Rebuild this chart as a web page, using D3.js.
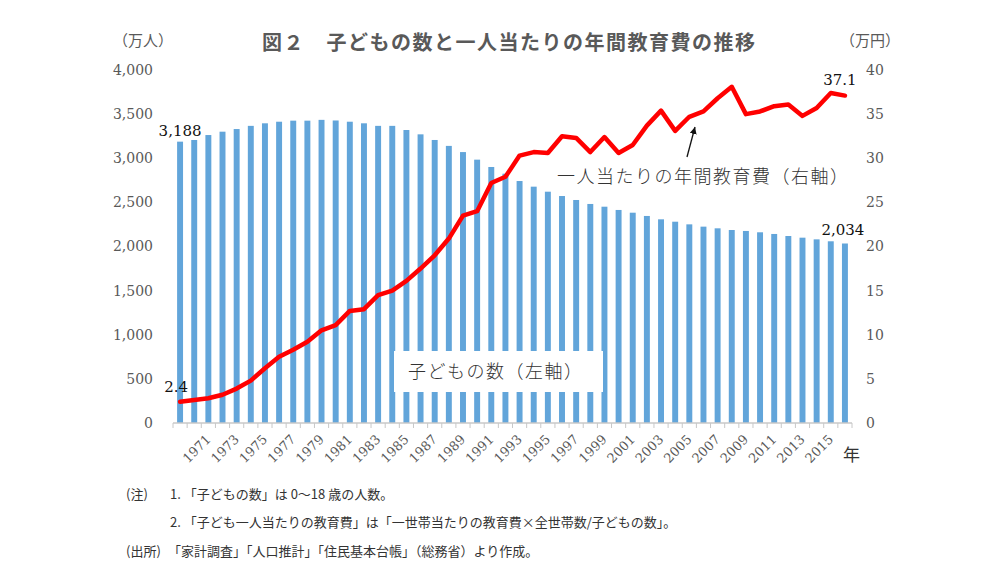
<!DOCTYPE html>
<html>
<head>
<meta charset="utf-8">
<script src="https://cdn.jsdelivr.net/npm/d3@7"></script>
<style>
  html, body { margin: 0; padding: 0; background: #fff; }
  svg { display: block; }
  .num { font-family: "DejaVu Serif", "Liberation Serif", serif; }
  .jp { font-family: "Noto Sans CJK JP", "Noto Sans", sans-serif; }
</style>
</head>
<body>
<svg id="chart" width="1000" height="570"></svg>
<script>
// ---- data ----
const years = d3.range(1969, 2017).map(String); // 48 categories
const tickLabels = ["1971","1973","1975","1977","1979","1981","1983","1985","1987","1989","1991",
  "1993","1995","1997","1999","2001","2003","2005","2007","2009","2011","2013","2015"];
const children = [3188, 3207, 3263, 3301, 3331, 3367, 3396, 3414, 3426, 3426, 3435, 3428,
  3414, 3396, 3367, 3367, 3320, 3271, 3207, 3140, 3070, 2984, 2901, 2825, 2742, 2678,
  2621, 2572, 2527, 2482, 2451, 2414, 2383, 2346, 2308, 2281, 2251, 2225, 2206, 2187,
  2176, 2161, 2142, 2119, 2100, 2081, 2059, 2034];
const eduCost = [2.4, 2.6, 2.8, 3.2, 3.9, 4.8, 6.2, 7.5, 8.3, 9.2, 10.5, 11.1,
  12.7, 12.9, 14.5, 15.0, 16.1, 17.5, 19.0, 20.9, 23.5, 24.0, 27.2, 27.9, 30.3, 30.7,
  30.6, 32.5, 32.3, 30.7, 32.4, 30.6, 31.5, 33.7, 35.4, 33.1, 34.7, 35.3, 36.8, 38.1,
  35.0, 35.3, 35.9, 36.1, 34.8, 35.7, 37.4, 37.1];
const leftTicks = [0, 500, 1000, 1500, 2000, 2500, 3000, 3500, 4000];
const rightTicks = [0, 5, 10, 15, 20, 25, 30, 35, 40];
const notePrefix = ["(注)", "", "(出所)"];
const notes = [
  "1. 「子どもの数」は 0～18 歳の人数。",
  "2. 「子ども一人当たりの教育費」は「一世帯当たりの教育費×全世帯数/子どもの数」。",
  "「家計調査」「人口推計」「住民基本台帳」（総務省）より作成。"
];

// ---- layout ----
const svg = d3.select("#chart");
const plot = { left: 173, right: 852, top: 70, bottom: 423 };

const x = d3.scaleBand().domain(years).range([plot.left, plot.right]).paddingInner(0.58).paddingOuter(0.29);
const xBand = d3.scaleBand().domain(years).range([plot.left, plot.right]);
const yL = d3.scaleLinear().domain([0, 4000]).range([plot.bottom, plot.top]);
const yR = d3.scaleLinear().domain([0, 40]).range([plot.bottom, plot.top]);

const grey = "#595959";

// bars
svg.append("g").selectAll("rect").data(children).join("rect")
  .attr("x", (d, i) => x(years[i]))
  .attr("width", x.bandwidth())
  .attr("y", d => yL(d))
  .attr("height", d => yL(0) - yL(d))
  .attr("fill", "#62a5da");

// x axis
const xAxis = svg.append("g").attr("transform", `translate(0,${plot.bottom})`);
xAxis.append("line").attr("x1", plot.left).attr("x2", plot.right)
  .attr("y1", 0).attr("y2", 0).attr("stroke", "#c8c8c8").attr("stroke-width", 1.5);
const bounds = years.map(y => xBand(y)).concat([plot.right]);
xAxis.selectAll("line.tk").data(bounds).join("line").attr("class", "tk")
  .attr("x1", d => d).attr("x2", d => d).attr("y1", 0).attr("y2", 5)
  .attr("stroke", "#c8c8c8").attr("stroke-width", 1);
xAxis.selectAll("text").data(tickLabels).join("text")
  .attr("class", "num")
  .attr("transform", d => `translate(${xBand(d) + xBand.bandwidth() / 2},14) rotate(-45)`)
  .attr("text-anchor", "end").attr("dy", "0.35em")
  .attr("font-size", 13).attr("fill", grey)
  .text(d => d);

// left axis labels
svg.append("g").selectAll("text").data(leftTicks).join("text")
  .attr("class", "num")
  .attr("x", 153).attr("y", d => yL(d)).attr("dy", "0.35em")
  .attr("text-anchor", "end").attr("font-size", 14).attr("fill", grey)
  .text(d => d3.format(",")(d));

// right axis labels
svg.append("g").selectAll("text").data(rightTicks).join("text")
  .attr("class", "num")
  .attr("x", 866).attr("y", d => yR(d)).attr("dy", "0.35em")
  .attr("text-anchor", "start").attr("font-size", 14).attr("fill", grey)
  .text(d => d);

// box label for bars
svg.append("rect").attr("x", 394).attr("y", 351).attr("width", 209).attr("height", 41).attr("fill", "#fff");
svg.append("text").attr("class", "jp").attr("x", 408).attr("y", 378)
  .attr("font-size", 18).attr("letter-spacing", 1.5).attr("fill", "#333").attr("font-weight", 300)
  .text("子どもの数（左軸）");

// line
const line = d3.line()
  .x((d, i) => xBand(years[i]) + xBand.bandwidth() / 2)
  .y(d => yR(d));
svg.append("path").datum(eduCost).attr("d", line)
  .attr("fill", "none").attr("stroke", "#ff0000").attr("stroke-width", 4.5)
  .attr("stroke-linejoin", "round").attr("stroke-linecap", "round");

// value labels
const cx = i => xBand(years[i]) + xBand.bandwidth() / 2;
svg.append("text").attr("class", "num").attr("x", cx(0)).attr("y", yL(children[0]) - 6)
  .attr("text-anchor", "middle").attr("font-size", 15).attr("fill", "#111")
  .text(d3.format(",")(children[0]));
svg.append("text").attr("class", "num").attr("x", cx(47) - 2).attr("y", yL(children[47]) - 8)
  .attr("text-anchor", "middle").attr("font-size", 15).attr("fill", "#111")
  .text(d3.format(",")(children[47]));
svg.append("text").attr("class", "num").attr("x", cx(0) - 4).attr("y", yR(eduCost[0]) - 10)
  .attr("text-anchor", "middle").attr("font-size", 15).attr("fill", "#111")
  .text(eduCost[0]);
svg.append("text").attr("class", "num").attr("x", cx(47) - 5).attr("y", yR(eduCost[47]) - 11)
  .attr("text-anchor", "middle").attr("font-size", 15).attr("fill", "#111")
  .text(eduCost[47]);

// annotation with arrow
svg.append("defs").append("marker").attr("id", "arr")
  .attr("viewBox", "0 0 10 10").attr("refX", 10).attr("refY", 5)
  .attr("markerWidth", 7).attr("markerHeight", 7).attr("markerUnits", "userSpaceOnUse")
  .attr("orient", "auto")
  .append("path").attr("d", "M0,0 L10,5 L0,10 z").attr("fill", "#111");
svg.append("line").attr("x1", 687).attr("y1", 157).attr("x2", 695).attr("y2", 127)
  .attr("stroke", "#111").attr("stroke-width", 1.3)
  .attr("marker-end", "url(#arr)");
svg.append("text").attr("class", "jp").attr("x", 557).attr("y", 183)
  .attr("font-size", 18).attr("letter-spacing", 1.5).attr("fill", "#333").attr("font-weight", 300)
  .text("一人当たりの年間教育費（右軸）");

// titles and units
svg.append("text").attr("class", "jp").attr("x", 262).attr("y", 50)
  .attr("font-size", 20).attr("font-weight", 700).attr("letter-spacing", 1.5).attr("fill", grey)
  .text("図２　子どもの数と一人当たりの年間教育費の推移");
svg.append("text").attr("class", "jp").attr("x", 113).attr("y", 46)
  .attr("font-size", 15).attr("fill", grey).text("（万人）");
svg.append("text").attr("class", "jp").attr("x", 840).attr("y", 46)
  .attr("font-size", 15).attr("fill", grey).text("（万円）");
svg.append("text").attr("class", "jp").attr("x", 843).attr("y", 461)
  .attr("font-size", 17).attr("fill", "#333").text("年");

// notes
const noteY = [499, 527, 556];
const noteX = [170, 170, 168];
const ng = svg.append("g").attr("class", "jp").attr("font-size", 13).attr("fill", "#333");
ng.selectAll("text.pre").data(notePrefix).join("text").attr("class", "pre")
  .attr("x", 126).attr("y", (d, i) => noteY[i]).text(d => d);
ng.selectAll("text.body").data(notes).join("text").attr("class", "body")
  .attr("x", (d, i) => noteX[i]).attr("y", (d, i) => noteY[i])
  .text(d => d);
</script>
</body>
</html>
